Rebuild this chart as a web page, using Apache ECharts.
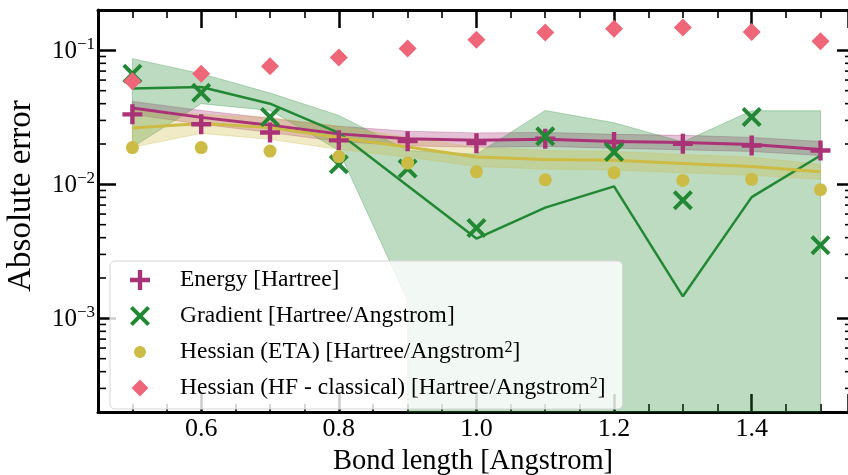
<!DOCTYPE html>
<html>
<head>
<meta charset="utf-8">
<script src="https://cdn.jsdelivr.net/npm/echarts@6/dist/echarts.min.js"></script>
<style>html,body{margin:0;padding:0;background:#fff}#c{width:848px;height:475px}</style>
</head>
<body>
<div id="c"></div>
<script>
// ---- data ----
const bondLengths = [0.5, 0.6, 0.7, 0.8, 0.9, 1.0, 1.1, 1.2, 1.3, 1.4, 1.5];

const energyPoints = [0.0333, 0.0281, 0.0244, 0.0213, 0.0210, 0.0203, 0.0219, 0.0207, 0.0201, 0.0195, 0.0179];
const energyMean   = [0.0371, 0.0316, 0.0276, 0.0238, 0.0219, 0.0213, 0.0217, 0.0209, 0.0205, 0.0198, 0.0182];
const energyUpper  = [0.0416, 0.0356, 0.0311, 0.0271, 0.0249, 0.0242, 0.0244, 0.0236, 0.0232, 0.0224, 0.0209];
const energyLower  = [0.0333, 0.0281, 0.0244, 0.0209, 0.0194, 0.0189, 0.0192, 0.0186, 0.0181, 0.0176, 0.0164];

const gradPoints = [0.0668, 0.0482, 0.0318, 0.0141, 0.0131, 0.00472, 0.0228, 0.0174, 0.00760, 0.0318, 0.00351];
const gradMean   = [0.0518, 0.0532, 0.0400, 0.0242, 0.00977, 0.00394, 0.00670, 0.00966, 0.00146, 0.00803, 0.0164];
const gradUpper  = [0.0867, 0.0670, 0.0480, 0.0327, 0.0179, 0.0168, 0.0356, 0.0288, 0.0207, 0.0354, 0.0354];
const gradLower  = [0.0189, 0.0400, 0.0356, 0.0179, 0.00136, 0, 0, 0, 0, 0, 0]; // 0 = non-positive (off the log scale)

const etaPoints = [0.0188, 0.0188, 0.0177, 0.0161, 0.0144, 0.0124, 0.0108, 0.0122, 0.0107, 0.0109, 0.00912];
const etaMean   = [0.0263, 0.0284, 0.0265, 0.0224, 0.0190, 0.0160, 0.0153, 0.0151, 0.0143, 0.0136, 0.0124];
const etaUpper  = [0.0356, 0.0333, 0.0316, 0.0271, 0.0224, 0.0189, 0.0179, 0.0176, 0.0167, 0.0159, 0.0141];
const etaLower  = [0.0189, 0.0240, 0.0217, 0.0182, 0.0160, 0.0136, 0.0130, 0.0128, 0.0122, 0.0117, 0.0109];

const hfPoints = [0.0587, 0.0670, 0.0760, 0.0883, 0.103, 0.120, 0.136, 0.145, 0.148, 0.137, 0.117];

const seriesNames = ['Energy [Hartree]', 'Gradient [Hartree/Angstrom]',
  'Hessian (ETA) [Hartree/Angstrom2]', 'Hessian (HF - classical) [Hartree/Angstrom2]'];
const xLimits = [0.45, 1.54];   // right spine falls at the picture's edge
const yLimits = [0.0002, 0.2];

// ---- style ----
const PURPLE = '#AA3377', GREEN = '#228833', YELLOW = '#CCBB44', RED = '#EE6677';
const FONT = '"Liberation Serif", "DejaVu Serif", serif';
const PLUS = 'path://M39,0H61V39H100V61H61V100H39V61H0V39H39Z';
const CROSS = 'path://M0,14L14,0L50,36L86,0L100,14L64,50L100,86L86,100L50,64L14,100L0,86L36,50Z';
const CIRCLE_LEG = 'path://M0,0h0.01v0.01h-0.01zM100,100h0.01v0.01h-0.01zM50,20A30,30 0 1 1 49.99,20Z';
const DIAM_LEG = 'path://M0,0h0.01v0.01h-0.01zM100,100h0.01v0.01h-0.01zM50,8L92,50L50,92L8,50Z';

function pairs(ys) { return bondLengths.map((x, i) => [x, ys[i]]); }
function rgba(hex, a) {
  const n = parseInt(hex.slice(1), 16);
  return `rgba(${n >> 16},${(n >> 8) & 255},${n & 255},${a})`;
}

function band(upper, lower, color, z) {
  return {
    type: 'custom', silent: true, z: z,
    data: [[bondLengths[0], upper[0]]],
    renderItem: function (params, api) {
      const cs = params.coordSys;
      const bottom = cs.y + cs.height;
      const pts = [];
      bondLengths.forEach((x, i) => pts.push(api.coord([x, upper[i]])));
      for (let i = bondLengths.length - 1; i >= 0; i--) {
        const v = lower[i];
        if (v > 0) pts.push(api.coord([bondLengths[i], v]));
        else {
          pts.push([api.coord([bondLengths[i], upper[i]])[0], bottom]);
          if (i > 0 && lower[i - 1] > 0) pts.push([api.coord([bondLengths[i - 1], upper[i - 1]])[0], bottom]);
        }
      }
      return {
        type: 'polygon', shape: { points: pts },
        style: { fill: rgba(color, 0.3), stroke: rgba(color, 0.3), lineWidth: 1 }
      };
    }
  };
}

// minor ticks of log axis: 2..9 x 10^n inside the limits
const minorY = [];
for (let e = -4; e <= -1; e++) for (let k = 2; k <= 9; k++) {
  const v = k * Math.pow(10, e);
  if (v > yLimits[0] * 1.0001 && v < yLimits[1] * 0.9999) minorY.push([1.0, v]);
}

const chart = echarts.init(document.getElementById('c'), null, { renderer: 'canvas' });

const axisCommonX = {
  type: 'value', min: xLimits[0], max: xLimits[1], splitNumber: 5,
  axisLine: { onZero: false, lineStyle: { color: '#000', width: 3 } },
  axisTick: { inside: true, length: 18, lineStyle: { color: '#000', width: 2.5 } },
  minorTick: { show: true, splitNumber: 4, length: 8, lineStyle: { color: '#000', width: 1.6 } },
  splitLine: { show: false }, minorSplitLine: { show: false }
};
const axisCommonY = {
  type: 'log', logBase: 10, min: yLimits[0], max: yLimits[1],
  axisLine: { onZero: false, lineStyle: { color: '#000', width: 3 } },
  axisTick: { inside: true, length: 18, lineStyle: { color: '#000', width: 2.5 } },
  splitLine: { show: false }
};

function isPow10(v) { const l = Math.log10(v); return Math.abs(l - Math.round(l)) < 1e-6; }

chart.setOption({
  animation: false,
  backgroundColor: '#fff',
  grid: { left: 98, right: 0, top: 10, bottom: 63, outerBoundsMode: 'none', containLabel: false },
  xAxis: [
    Object.assign({}, axisCommonX, {
      position: 'bottom',
      name: 'Bond length [Angstrom]', nameLocation: 'middle', nameGap: 32,
      nameTextStyle: { fontFamily: FONT, fontSize: 28.5, color: '#000' },
      axisLabel: {
        margin: 4, fontFamily: FONT, fontSize: 26, color: '#000',
        formatter: v => (Math.abs(v * 5 - Math.round(v * 5)) < 1e-6 ? v.toFixed(1) : '')
      }
    }),
    Object.assign({}, axisCommonX, { position: 'top', axisLabel: { show: false } })
  ],
  yAxis: [
    Object.assign({}, axisCommonY, {
      position: 'left',
      name: 'Absolute error', nameLocation: 'middle', nameGap: 60,
      nameTextStyle: { fontFamily: FONT, fontSize: 33, color: '#000', padding: [0, 0, 0, 30] },
      axisLabel: {
        margin: 3, fontFamily: FONT, color: '#000',
        formatter: v => isPow10(v) ? '{b|10}{s|\u2212' + Math.abs(Math.round(Math.log10(v))) + '}' : '',
        rich: {
          b: { fontFamily: FONT, fontSize: 25, lineHeight: 28, verticalAlign: 'bottom', color: '#000' },
          s: { fontFamily: FONT, fontSize: 17, lineHeight: 17, verticalAlign: 'top', color: '#000' }
        }
      }
    }),
    Object.assign({}, axisCommonY, {
      position: 'right', axisLabel: { show: false },
      axisLine: { show: false },
      axisTick: { inside: true, length: 11, lineStyle: { color: '#000', width: 2.5 } }
    })
  ],
  legend: {
    orient: 'vertical', left: 110, top: 261,
    padding: [7, 17, 9, 20], itemGap: 12, itemWidth: 20, itemHeight: 20,
    backgroundColor: 'rgba(255,255,255,0.8)', borderColor: '#d6d6d6', borderWidth: 1, borderRadius: 5,
    selectedMode: false,
    data: [
      { name: seriesNames[0], icon: PLUS },
      { name: seriesNames[1], icon: CROSS },
      { name: seriesNames[2], icon: CIRCLE_LEG },
      { name: seriesNames[3], icon: DIAM_LEG }
    ],
    formatter: function (name) {
      return name.endsWith('2]') ? name.slice(0, -2) + '{sup|2}]' : name;
    },
    textStyle: {
      fontFamily: FONT, fontSize: 23.5, color: '#000', lineHeight: 24, padding: [0, 0, 0, 25],
      rich: { sup: { fontFamily: FONT, fontSize: 16, lineHeight: 16, verticalAlign: 'top', color: '#000' } }
    }
  },
  series: [
    band(energyUpper, energyLower, PURPLE, 1),
    band(gradUpper, gradLower, GREEN, 2),
    band(etaUpper, etaLower, YELLOW, 3),
    { type: 'line', data: pairs(energyMean), showSymbol: false, z: 4, silent: true,
      lineStyle: { color: PURPLE, width: 3 } },
    { type: 'line', data: pairs(gradMean), showSymbol: false, z: 4, silent: true,
      lineStyle: { color: GREEN, width: 2.5 } },
    { type: 'line', data: pairs(etaMean), showSymbol: false, z: 4, silent: true,
      lineStyle: { color: YELLOW, width: 3 } },
    { name: seriesNames[0], type: 'scatter', data: pairs(energyPoints), symbol: PLUS, symbolSize: 20, z: 5,
      itemStyle: { color: PURPLE, opacity: 1 } },
    { name: seriesNames[1], type: 'scatter', data: pairs(gradPoints), symbol: CROSS, symbolSize: 20, z: 5,
      itemStyle: { color: GREEN, opacity: 1 } },
    { name: seriesNames[2], type: 'scatter', data: pairs(etaPoints), symbol: 'circle', symbolSize: 13, z: 5,
      itemStyle: { color: YELLOW, opacity: 1 } },
    { name: seriesNames[3], type: 'scatter', data: pairs(hfPoints), symbol: 'diamond', symbolSize: 18, z: 5,
      itemStyle: { color: RED, opacity: 1 } },
    // minor ticks of the logarithmic y axis (left and right spines)
    { type: 'custom', silent: true, z: 6, data: minorY,
      renderItem: function (params, api) {
        const cs = params.coordSys;
        const y = api.coord([api.value(0), api.value(1)])[1];
        return { type: 'group', children: [
          { type: 'line', shape: { x1: cs.x, y1: y, x2: cs.x + 8, y2: y }, style: { stroke: '#000', lineWidth: 1.6 } },
          { type: 'line', shape: { x1: cs.x + cs.width - 3, y1: y, x2: cs.x + cs.width, y2: y }, style: { stroke: '#000', lineWidth: 1.6 } }
        ] };
      }
    }
  ]
});
</script>
</body>
</html>
